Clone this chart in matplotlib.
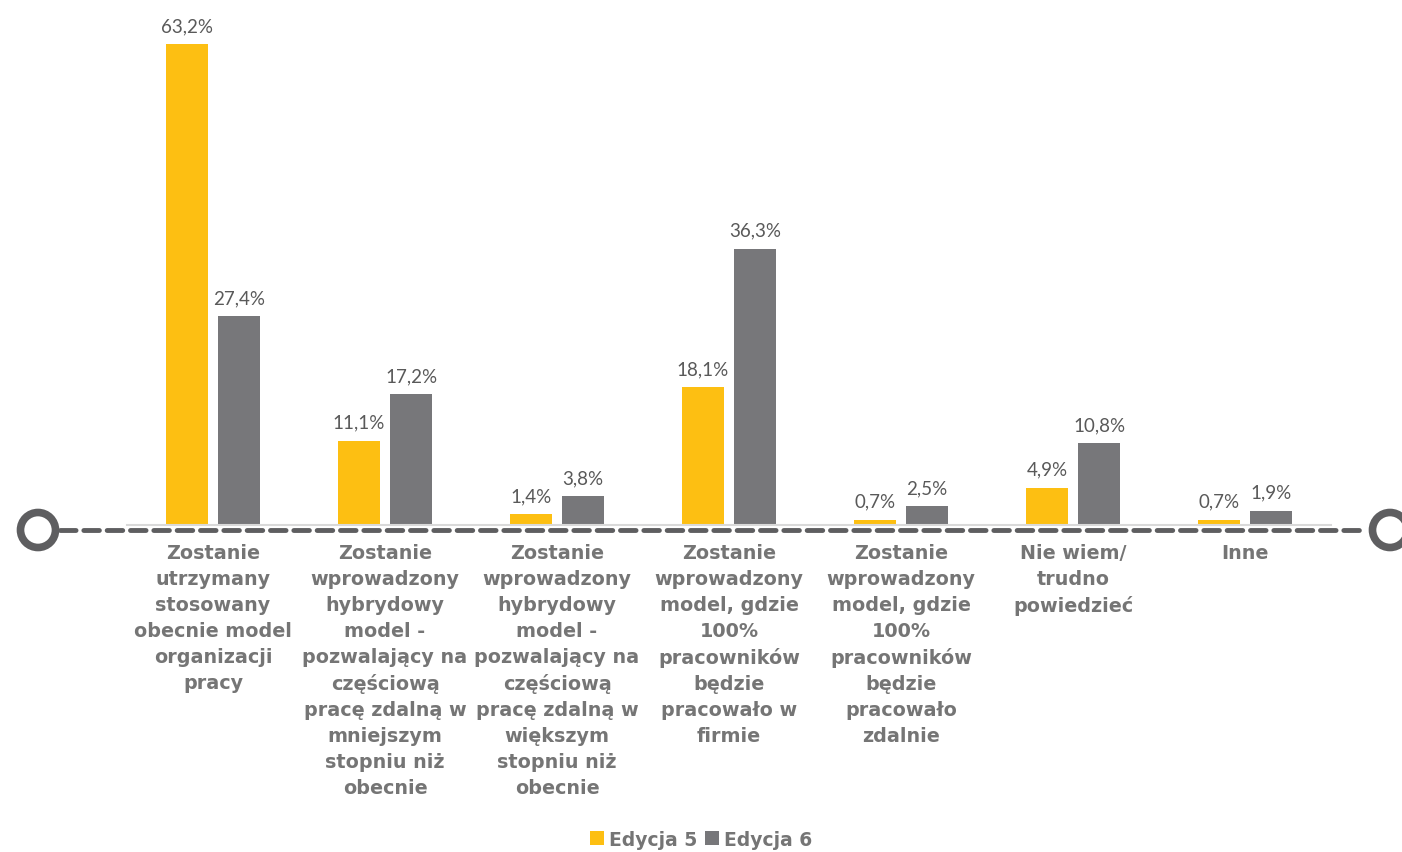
import numpy as np
import matplotlib
matplotlib.use("Agg")
import matplotlib.pyplot as plt
from matplotlib.patches import Circle

plt.rcParams['font.family'] = ['DejaVu Sans']

categories = [
    "Zostanie\nutrzymany\nstosowany\nobecnie model\norganizacji\npracy",
    "Zostanie\nwprowadzony\nhybrydowy\nmodel -\npozwalający na\nczęściową\npracę zdalną w\nmniejszym\nstopniu niż\nobecnie",
    "Zostanie\nwprowadzony\nhybrydowy\nmodel -\npozwalający na\nczęściową\npracę zdalną w\nwiększym\nstopniu niż\nobecnie",
    "Zostanie\nwprowadzony\nmodel, gdzie\n100%\npracowników\nbędzie\npracowało w\nfirmie",
    "Zostanie\nwprowadzony\nmodel, gdzie\n100%\npracowników\nbędzie\npracowało\nzdalnie",
    "Nie wiem/\ntrudno\npowiedzieć",
    "Inne",
]
edycja5 = [63.2, 11.1, 1.4, 18.1, 0.7, 4.9, 0.7]
edycja6 = [27.4, 17.2, 3.8, 36.3, 2.5, 10.8, 1.9]
series_names = ["Edycja 5", "Edycja 6"]

yellow = "#FDBF12"
grey = "#77777A"
text_grey = "#757575"

W, H = 1402, 853
fig = plt.figure(figsize=(W / 100, H / 100), dpi=100)
ax = fig.add_axes([127 / W, (H - 526) / H, 1204 / W, 526 / H])

x = np.arange(len(categories))
bw = 0.245
off = 0.152
b1 = ax.bar(x - off, edycja5, bw, color=yellow, label=series_names[0])
b2 = ax.bar(x + off, edycja6, bw, color=grey, label=series_names[1])

for bars, vals in ((b1, edycja5), (b2, edycja6)):
    for r, v in zip(bars, vals):
        ax.text(r.get_x() + r.get_width() / 2, v + 1.3,
                f"{v:.1f}%".replace(".", ","), ha="center", va="bottom",
                fontsize=13.5, color="#595959", family="Lato")

ax.set_xlim(-0.5, len(categories) - 0.5)
ax.set_ylim(0, 69.1)
ax.set_yticks([])
ax.set_xticks([])
for s in ["top", "left", "right"]:
    ax.spines[s].set_visible(False)
ax.spines["bottom"].set_color("#D9D9D9")
ax.spines["bottom"].set_linewidth(1.5)

for i, lab in enumerate(categories):
    ax.text(i, -2.3, lab, ha="center", va="top", fontsize=13.8,
            fontweight="bold", color=text_grey, linespacing=1.47)

# timeline decoration (dashed line + circles) in pixel coordinates
ov = fig.add_axes([0, 0, 1, 1], zorder=3)
ov.set_xlim(0, W)
ov.set_ylim(H, 0)
ov.axis("off")
ov.plot([60, 1366], [531, 531], color="#5E5E60", lw=3.5,
        dashes=(3.2, 1.6), solid_capstyle="round", dash_capstyle="round")
for cx in (38, 1390):
    ov.add_patch(Circle((cx, 531), 17.5, fill=False, ec="#5E5E60", lw=5.5))

leg = fig.legend(handles=[b1, b2], loc="lower center",
                 bbox_to_anchor=(0.5, -0.016), ncol=2, frameon=False,
                 handlelength=0.75, handleheight=0.75, handletextpad=0.25,
                 columnspacing=0.4, prop={"weight": "bold", "size": 13.5})
for t in leg.get_texts():
    t.set_color(text_grey)

fig.savefig("out.png", dpi=100)
